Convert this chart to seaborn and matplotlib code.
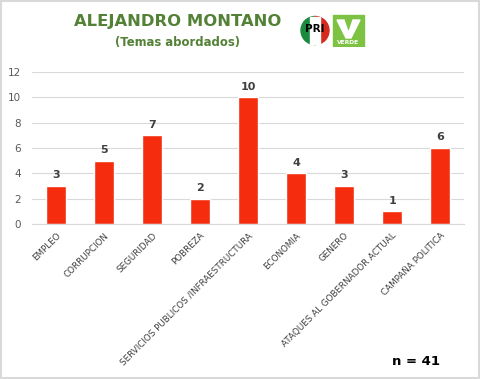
import matplotlib
matplotlib.use('Agg')
import matplotlib.pyplot as plt
import seaborn as sns
import pandas as pd
from matplotlib.patches import Rectangle, Wedge, Polygon

# Data
temas = ['EMPLEO', 'CORRUPCION', 'SEGURIDAD', 'POBREZA',
         'SERVICIOS PUBLICOS /INFRAESTRUCTURA', 'ECONOMIA', 'GENERO',
         'ATAQUES AL GOBERNADOR ACTUAL', 'CAMPAÑA POLITICA']
menciones = [3, 5, 7, 2, 10, 4, 3, 1, 6]
y_ticks = [0, 2, 4, 6, 8, 10, 12]

df = pd.DataFrame({'tema': temas, 'menciones': menciones})

sns.set_style('white')
plt.rcParams['font.family'] = ['DejaVu Sans']

fig = plt.figure(figsize=(4.81, 3.79), dpi=100)
ax = fig.add_axes([0.0665, 0.409, 0.8985, 0.401])

sns.barplot(data=df, x='tema', y='menciones', color='#f52d0e',
            width=0.42, saturation=1, ax=ax)

ax.set_ylim(0, 12)
ax.set_yticks(y_ticks)
ax.yaxis.grid(True, color='#d9d9d9', linewidth=0.8)
ax.set_axisbelow(True)
for s in ['top', 'right', 'left']:
    ax.spines[s].set_visible(False)
ax.spines['bottom'].set_color('#d9d9d9')
ax.tick_params(axis='y', labelsize=7.5, colors='#595959', length=0, pad=8)
ax.tick_params(axis='x', length=0, pad=5)
ax.set_xticks(range(len(temas)))
ax.set_xticklabels(temas, rotation=45, ha='right', rotation_mode='anchor',
                   fontsize=6.3, color='#404040')
ax.set_xlabel('')
ax.set_ylabel('')

for i, v in enumerate(menciones):
    ax.text(i, v + 0.45, str(v), ha='center', va='bottom',
            fontsize=8, fontweight='bold', color='#404040')

fig.text(0.37, 0.942, 'ALEJANDRO MONTANO', ha='center', va='center',
         fontsize=11.8, fontweight='bold', color='#538135')
fig.text(0.37, 0.887, '(Temas abordados)', ha='center', va='center',
         fontsize=8.4, fontweight='bold', color='#538135')
fig.text(0.865, 0.045, 'n = 41', ha='center', va='center',
         fontsize=9.5, fontweight='bold', color='black')

# logos (simplified), axes in pixel units: x 300..366, y 14..47 from top
logo = fig.add_axes([300 / 481, 1 - 47 / 379, 66 / 481, 33 / 379])
logo.set_xlim(0, 66)
logo.set_ylim(0, 33)
logo.axis('off')
cx, cy, r = 15, 16.5, 14
logo.add_patch(Wedge((cx, cy), r, 90, 270, color='#1a8a3c'))
logo.add_patch(Wedge((cx, cy), r, 270, 90, color='#d52b1e'))
logo.add_patch(Rectangle((cx - 5, cy - r + 0.5), 10, 2 * r - 1, color='white'))
logo.text(cx, cy + 1, 'PRI', ha='center', va='center', fontsize=7.5,
          fontweight='bold', color='black')
logo.add_patch(Rectangle((33, 1), 31, 31, color='#7dc242'))
logo.add_patch(Polygon([[37, 27], [44, 27], [48.5, 14], [53, 27], [60, 27],
                        [51, 9], [46, 9]], color='white'))
logo.text(48.5, 5, 'VERDE', ha='center', va='center', fontsize=4.3,
          fontweight='bold', color='white')

fig.patches.append(Rectangle((0.002, 0.003), 0.994, 0.994, transform=fig.transFigure,
                             fill=False, edgecolor='#d9d9d9', linewidth=1.5))

fig.savefig('out.png', dpi=100)
